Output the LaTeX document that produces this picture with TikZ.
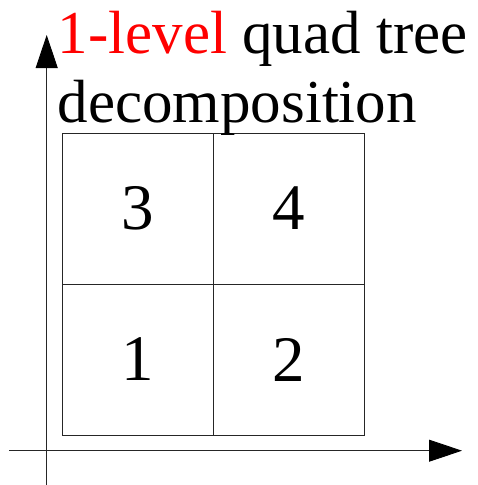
\documentclass[tikz,border=0pt]{standalone}
\usepackage{fontspec}
\setmainfont{Liberation Serif}
\usetikzlibrary{arrows.meta}
\begin{document}
\begin{tikzpicture}[x=1pt,y=-1pt,
  cell/.style={draw=black!85,line width=0.9pt,minimum width=151pt,minimum height=151pt,inner sep=0pt,
    font=\fontsize{65}{70}\selectfont},
  titletext/.style={anchor=base west,inner sep=0pt,font=\fontsize{61}{69}\selectfont},
  axis/.style={draw=black!85,line width=0.9pt,-{Triangle[length=33pt,width=22pt,color=black]}}]
\useasboundingbox (0,0) rectangle (478,485);
\coordinate (yb) at (46.7,485);
\coordinate (yt) at (46.7,35);
\coordinate (xl) at (9,450.7);
\coordinate (xr) at (462,450.7);
\draw[axis] (yb) -- (yt);
\draw[axis] (xl) -- (xr);
\node[cell] (c3) at (137.5,208.5) {3};
\node[cell] (c4) at (288.5,208.5) {4};
\node[cell] (c1) at (137.5,359.5) {1};
\node[cell] (c2) at (288.5,359.5) {2};
\node[titletext] (t1) at (57.5,53) {\textcolor{red}{1-level} quad tree};
\node[titletext] (t2) at (57.5,122) {decomposition};
\end{tikzpicture}
\end{document}
